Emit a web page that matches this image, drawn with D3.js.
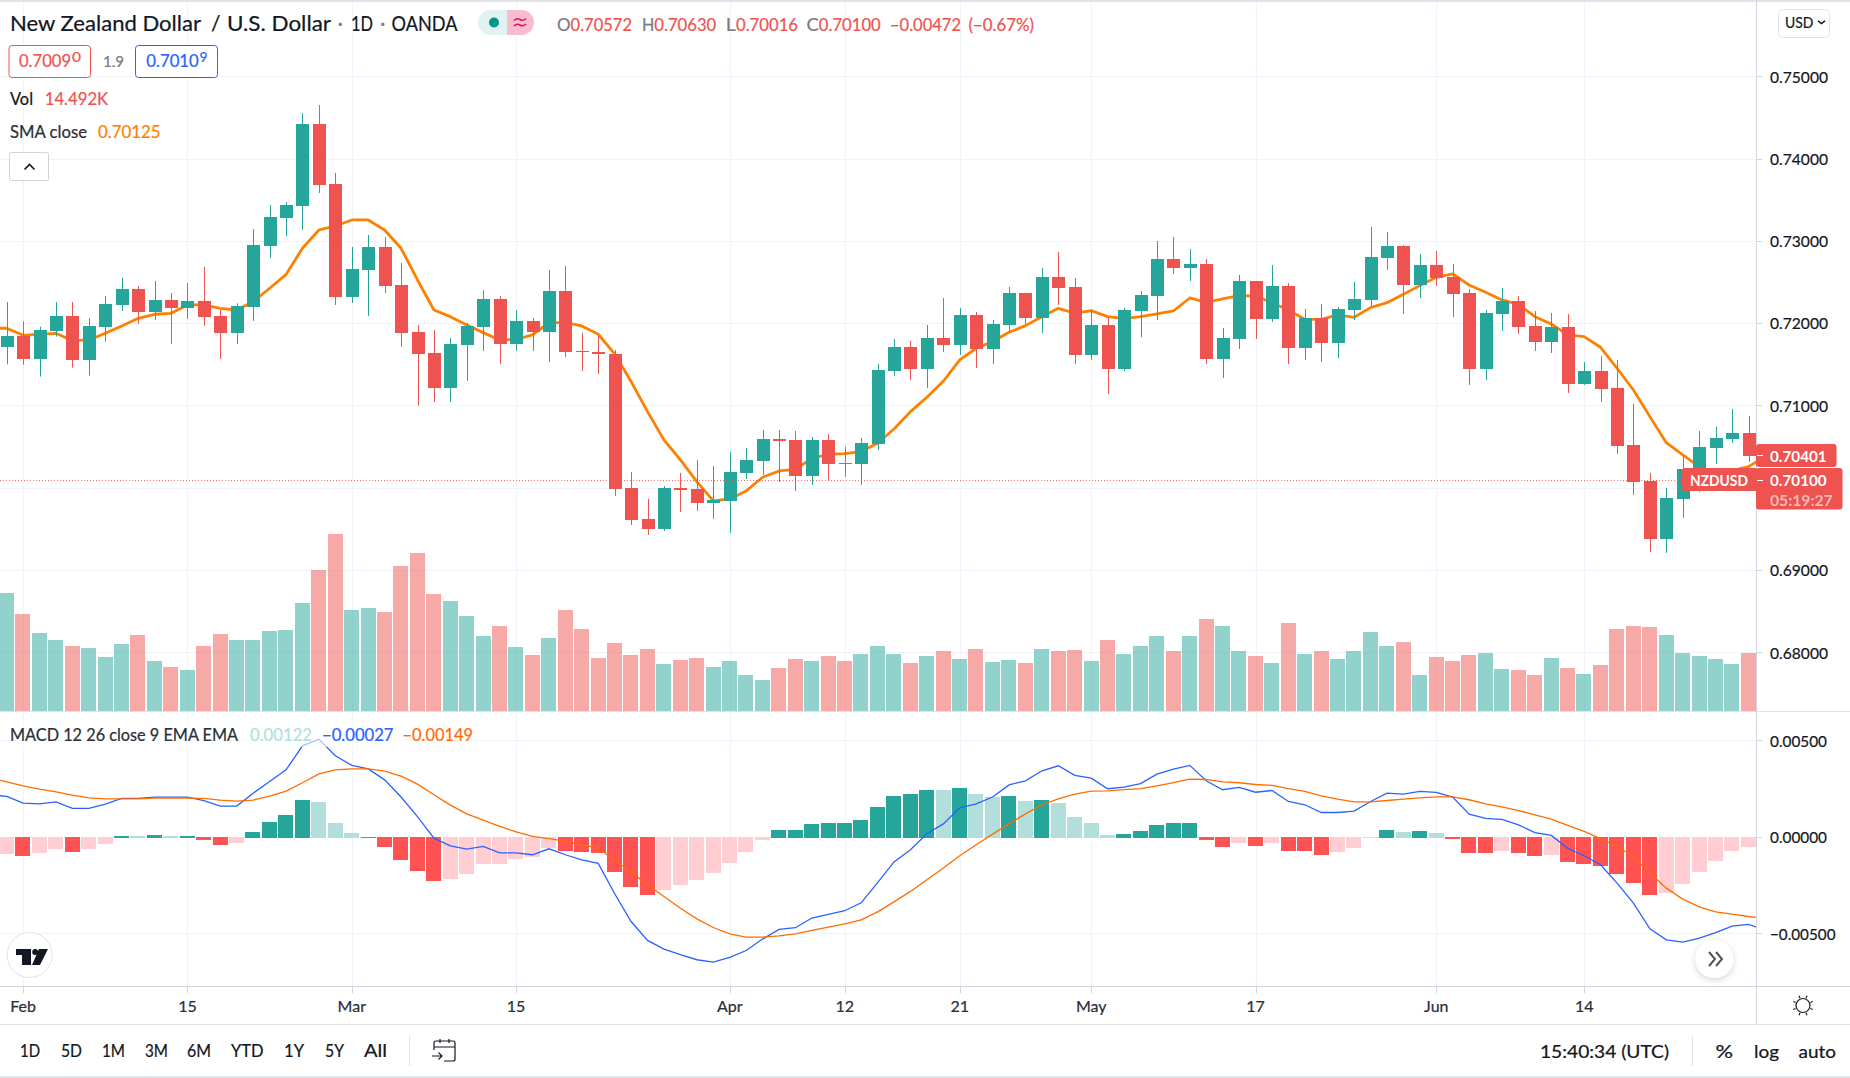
<!DOCTYPE html>
<html><head><meta charset="utf-8">
<script src="https://cdn.jsdelivr.net/npm/d3@7/dist/d3.min.js"></script>
<style>html,body{margin:0;padding:0;background:#fff;overflow:hidden}svg{display:block}text{font-family:Lato,"Noto Sans",sans-serif}</style>
</head><body><svg id="c" width="1850" height="1078"></svg>
<script>
const open=[.71715,.71844,.71565,.71905,.72087,.71553,.71954,.72221,.72415,.72136,.72282,.72185,.72270,.72087,.71881,.72197,.72938,.73278,.73424,.74420,.73691,.72318,.72646,.72926,.72464,.71893,.71638,.71213,.71735,.71954,.72294,.71747,.72027,.71893,.72391,.71662,.71650,.71626,.69998,.69621,.69499,.69998,.69985,.69815,.69840,.70180,.70326,.70593,.70581,.70143,.70581,.70301,.70289,.70532,.71419,.71711,.71443,.71820,.71735,.72100,.71686,.71978,.72367,.72063,.72561,.72440,.71614,.71978,.71443,.72148,.72330,.72780,.72671,.72719,.71565,.71808,.72513,.72051,.72452,.71699,.72063,.71759,.72160,.72282,.72792,.72938,.72464,.72707,.72561,.72367,.71443,.72112,.72270,.71966,.71771,.71954,.71261,.71419,.71213,.70520,.70083,.69378,.69864,.70216,.70484,.70593,.70666];
const close=[.71844,.71565,.71917,.72087,.71553,.71966,.72233,.72415,.72136,.72282,.72185,.72270,.72075,.71881,.72209,.72950,.73290,.73436,.74420,.73679,.72318,.72658,.72926,.72452,.71881,.71626,.71213,.71747,.71966,.72294,.71747,.72027,.71893,.72391,.71650,.71646,.71622,.69985,.69609,.69499,.69998,.69973,.69815,.69852,.70192,.70338,.70593,.70569,.70143,.70581,.70289,.70289,.70544,.71431,.71711,.71443,.71820,.71735,.72100,.71686,.71990,.72367,.72063,.72561,.72428,.71614,.71978,.71443,.72160,.72343,.72780,.72671,.72719,.71565,.71820,.72513,.72051,.72452,.71699,.72063,.71759,.72172,.72294,.72804,.72938,.72464,.72707,.72549,.72355,.71443,.72124,.72270,.71954,.71771,.71954,.71261,.71419,.71200,.70508,.70070,.69378,.69876,.70228,.70496,.70605,.70666,.70386];
const high=[.72257,.72023,.71958,.72257,.72257,.72063,.72330,.72553,.72452,.72513,.72367,.72488,.72683,.72160,.72241,.73144,.73436,.73472,.74554,.74651,.73825,.72926,.73072,.73047,.72731,.71978,.71917,.71820,.72002,.72403,.72330,.72160,.72063,.72646,.72695,.71881,.71844,.71674,.70192,.69864,.70022,.70180,.70338,.70265,.70435,.70484,.70702,.70702,.70690,.70617,.70654,.70496,.70605,.71504,.71808,.71784,.71978,.72306,.72185,.72136,.72039,.72440,.72367,.72671,.72865,.72549,.72160,.72063,.72185,.72391,.72999,.73047,.72901,.72780,.71942,.72586,.72513,.72707,.72488,.72172,.72233,.72197,.72500,.73169,.73108,.72950,.72841,.72877,.72719,.72415,.72160,.72428,.72330,.72148,.72124,.72112,.71528,.71601,.71553,.71018,.70180,.69998,.70374,.70690,.70739,.70957,.70872];
const low=[.71500,.71496,.71350,.71836,.71460,.71362,.71776,.72148,.71990,.72039,.71747,.72051,.71966,.71565,.71747,.72027,.72792,.73059,.73132,.73582,.72221,.72245,.72087,.72367,.71711,.70998,.71042,.71042,.71298,.71662,.71504,.71662,.71662,.71528,.71589,.71419,.71383,.69900,.69548,.69427,.69475,.69706,.69718,.69621,.69451,.70107,.70156,.70070,.69961,.70034,.70083,.70131,.70034,.70459,.71358,.71310,.71213,.71650,.71614,.71456,.71504,.71893,.71990,.71881,.72221,.71504,.71553,.71140,.71419,.71832,.72039,.72598,.72513,.71504,.71334,.71686,.71808,.72014,.71504,.71553,.71528,.71577,.72039,.72209,.72646,.72112,.72306,.72452,.72075,.71249,.71310,.71905,.71869,.71662,.71638,.71152,.71249,.71042,.70411,.69913,.69220,.69208,.69633,.69949,.70289,.70544,.70313];
// SMA: first value belongs to the bar just left of the view, last to the bar just right of it
const sma=[.71938,.71938,.71852,.71865,.71877,.71788,.71796,.71877,.71966,.72059,.72108,.72120,.72221,.72221,.72180,.72160,.72262,.72424,.72590,.72910,.73132,.73181,.73254,.73254,.73132,.72910,.72525,.72160,.72079,.71978,.71885,.71796,.71804,.71857,.72006,.72006,.71966,.71865,.71626,.71290,.70925,.70581,.70338,.70075,.69840,.69864,.69961,.70127,.70204,.70224,.70358,.70407,.70415,.70439,.70540,.70714,.70925,.71099,.71294,.71553,.71695,.71776,.71889,.71970,.72079,.72180,.72120,.72152,.72079,.72055,.72079,.72112,.72148,.72306,.72253,.72294,.72334,.72330,.72249,.72160,.72047,.72047,.72100,.72071,.72189,.72249,.72351,.72456,.72557,.72598,.72464,.72375,.72282,.72229,.72079,.71990,.71857,.71836,.71707,.71452,.71188,.70864,.70548,.70399,.70257,.70168,.70208,.70257,.70377];
// volume in thousands
const volume=[29.5,24.25,19.5,17.75,16.25,15.75,13.5,16.75,19,12.5,11,10.25,16.25,19.25,17.75,17.75,20,20.25,27,35.25,44.25,25.25,25.75,24.75,36.25,39.5,29.25,27.5,23.75,18.75,21.25,16,14,18.25,25.25,20.5,13.25,17,14,15.5,11.75,12.75,13.25,11,12.5,9,7.75,10.75,13,12.5,13.75,12.5,14.25,16.25,14.25,12,13.75,15,13,15.5,12.25,12.75,12,15.5,15,15.25,12.5,17.75,14.25,16.25,18.75,15,18.75,23,21.25,15,13.75,12,22,14.25,15,13,15,19.75,16.25,17.25,9,13.5,12.5,14,14.5,10.5,10.25,9,13.25,10.75,9.25,11.5,20.5,21.25,21,19,14.5,13.75,13,11.75,14.492];
// MACD values in units of 0.00001
const hist=[-83,-93,-78,-57,-73,-57,-31,5,4,10,5,6,-10,-36,-26,26,78,114,192,181,73,21,-3,-47,-114,-171,-223,-212,-187,-135,-134,-109,-98,-52,-67,-73,-78,-176,-254,-295,-269,-244,-218,-181,-130,-73,-10,36,37,67,73,74,88,155,212,223,244,243,254,223,207,212,187,192,176,104,73,10,16,31,62,73,74,-10,-47,-26,-41,-26,-67,-68,-88,-73,-52,-2,36,26,31,21,-5,-78,-79,-67,-78,-93,-88,-124,-135,-145,-187,-233,-295,-285,-238,-176,-119,-67,-47];
const macd=[218,209,174,171,181,147,147,169,199,199,206,206,206,188,159,159,226,287,347,471,506,420,370,352,295,206,105,-7,-47,-64,-50,-83,-83,-93,-62,-93,-119,-138,-295,-439,-537,-582,-611,-637,-649,-625,-589,-530,-480,-471,-421,-402,-383,-342,-237,-130,-67,16,67,150,171,206,269,290,342,368,318,304,249,257,276,325,351,370,290,244,256,231,240,183,166,126,126,133,183,226,221,235,230,206,117,95,90,62,22,7,-60,-98,-145,-240,-344,-477,-534,-546,-525,-497,-463,-454,-482];
const signal=[306,285,264,247,233,216,202,197,197,197,200,200,200,199,190,185,190,211,237,280,326,347,352,352,340,314,273,218,164,119,86,54,26,2,-10,-22,-40,-59,-122,-183,-249,-309,-370,-425,-470,-503,-520,-520,-513,-503,-485,-468,-451,-430,-389,-337,-283,-223,-162,-98,-41,14,67,119,166,197,221,237,238,244,250,264,281,299,297,285,280,271,266,250,235,212,195,181,181,188,195,202,207,207,192,171,155,136,114,92,59,28,-9,-50,-102,-188,-266,-323,-363,-389,-401,-413,-423];
const priceTicks=[.75,.74,.73,.72,.71,.70,.69,.68];
const hiddenPriceLabels=[.70]; // covered by the last-price tag in the reference
const macdTicks=[.005,0,-.005];
const timeTickBars=[1,11,21,31,44,51,58,66,76,87,96];
const timeTickLabels=["Feb","15","Mar","15","Apr","12","21","May","17","Jun","14"];
const rangeButtons=["1D","5D","1M","3M","6M","YTD","1Y","5Y","All"];
const lastClose=.70100, lastSma=.70401;

const UP="#26a69a",DOWN="#ef5350",GRID="#f0f3fa",RULE="#e0e3eb",INK="#131722",GRAY="#787b86";
const plotRight=1756;
const svg=d3.select("#c");
const x=d3.scaleLinear().domain([0,106]).range([6.7,1748.5]);
const y=d3.scaleLinear().domain([.68,.75]).range([652.3,76.3]);
const yVol=d3.scaleLinear().domain([0,44.25]).range([711,534]);
const yM=d3.scaleLinear().domain([-.005,.005]).range([933.3,740.3]);
const barW=13, volW=15.4;

function text(g,px,py,s,o={}){
  const t=g.append("text").attr("x",px).attr("y",py).attr("dy",".36em")
  .attr("text-anchor",o.a||"start").attr("font-size",o.s||16).attr("fill",o.f||INK).attr("font-weight",o.w||400)
  .attr("stroke",o.f||INK).attr("stroke-width",o.w?0:.22).attr("opacity",o.o==null?null:o.o).text(s);
  if(o.l)t.attr("textLength",o.l).attr("lengthAdjust","spacingAndGlyphs");
  return t;}
function line(g,x1,y1,x2,y2,c,w=1){g.append("line").attr("x1",x1).attr("y1",y1).attr("x2",x2).attr("y2",y2).attr("stroke",c).attr("stroke-width",w);}

svg.append("defs").append("clipPath").attr("id","plot").append("rect").attr("x",0).attr("y",0).attr("width",plotRight).attr("height",1078);
svg.append("defs").append("filter").attr("id","sh").attr("x","-40%").attr("y","-40%").attr("width","180%").attr("height","180%")
  .append("feDropShadow").attr("dx",0).attr("dy",2).attr("stdDeviation",3).attr("flood-color","#000").attr("flood-opacity",.18);

// grid
const grid=svg.append("g").attr("shape-rendering","crispEdges");
priceTicks.forEach(p=>line(grid,0,Math.round(y(p))+.5,plotRight,Math.round(y(p))+.5,GRID));
macdTicks.forEach(p=>line(grid,0,Math.round(yM(p))+.5,plotRight,Math.round(yM(p))+.5,GRID));
timeTickBars.forEach(i=>line(grid,Math.round(x(i))+.5,2,Math.round(x(i))+.5,986,GRID));

// volume
svg.append("g").attr("shape-rendering","crispEdges").selectAll("rect").data(volume).join("rect")
  .attr("x",(d,i)=>Math.round(x(i)-volW/2)).attr("width",volW).attr("y",d=>yVol(d)).attr("height",d=>yVol(0)-yVol(d))
  .attr("fill",(d,i)=>close[i]<open[i]?DOWN:UP).attr("fill-opacity",.5);

// SMA, candles on top
const plot=svg.append("g").attr("clip-path","url(#plot)");
plot.append("path").datum(sma).attr("fill","none").attr("stroke","#ff8000").attr("stroke-width",2.8).attr("stroke-linejoin","round")
  .attr("d",d3.line().x((d,i)=>x(i-1)).y(d=>y(d)));
const candles=plot.selectAll("g.c").data(open).join("g").attr("class","c").attr("fill",(d,i)=>close[i]<d?DOWN:UP).attr("stroke",(d,i)=>close[i]<d?DOWN:UP);
candles.append("line").attr("x1",(d,i)=>Math.round(x(i))+.5).attr("x2",(d,i)=>Math.round(x(i))+.5).attr("y1",(d,i)=>y(high[i])).attr("y2",(d,i)=>y(low[i])).attr("stroke-width",1);
candles.append("rect").attr("stroke","none").attr("shape-rendering","crispEdges")
  .attr("x",(d,i)=>Math.round(x(i))+.5-barW/2).attr("width",barW)
  .attr("y",(d,i)=>y(Math.max(d,close[i]))).attr("height",(d,i)=>Math.max(1.5,Math.abs(y(d)-y(close[i]))));

// last price line
plot.append("line").attr("x1",0).attr("x2",plotRight).attr("y1",Math.round(y(lastClose))+.5).attr("y2",Math.round(y(lastClose))+.5)
  .attr("stroke",DOWN).attr("stroke-width",1).attr("stroke-dasharray","1 2").attr("opacity",.85);

// MACD histogram
const histColor=(d,i)=>{const p=i?hist[i-1]:d;return d>=0?(d>=p?"#26a69a":"#b2dfdb"):(d<p?"#ff5252":"#ffcdd2");};
svg.append("g").attr("shape-rendering","crispEdges").selectAll("rect").data(hist).join("rect")
  .attr("x",(d,i)=>Math.round(x(i)-volW/2)).attr("width",volW)
  .attr("y",d=>yM(Math.max(d,0)/1e5)).attr("height",d=>Math.abs(yM(d/1e5)-yM(0))+1).attr("fill",histColor);
const mLine=d3.line().x((d,i)=>x(i-1)).y(d=>yM(d/1e5));
const mg=svg.append("g").attr("clip-path","url(#plot)");
mg.append("path").datum(macd).attr("fill","none").attr("stroke","#2962ff").attr("stroke-width",1.3).attr("d",mLine);
mg.append("path").datum(signal).attr("fill","none").attr("stroke","#ff6d00").attr("stroke-width",1.3).attr("d",mLine);

// pane rules
const rules=svg.append("g").attr("shape-rendering","crispEdges");
line(rules,0,1,1850,1,RULE,2);
line(rules,0,711.5,1850,711.5,RULE);
line(rules,0,986.5,1850,986.5,"#d1d4dc");
line(rules,0,1024.5,1850,1024.5,RULE);
line(rules,0,1077,1850,1077,RULE,2);
line(rules,plotRight+.5,0,plotRight+.5,1024,"#d1d4dc");

// axes
const ax=svg.append("g");
const tickColor="#d1d4dc";
priceTicks.filter(p=>!hiddenPriceLabels.includes(p)).forEach(p=>{line(ax,plotRight,Math.round(y(p))+.5,plotRight+6,Math.round(y(p))+.5,tickColor);text(ax,1770,y(p)+.5,d3.format(".5f")(p),{l:58});});
macdTicks.forEach(p=>{line(ax,plotRight,Math.round(yM(p))+.5,plotRight+6,Math.round(yM(p))+.5,tickColor);text(ax,1770,yM(p)+.5,d3.format(".5f")(p).replace("-","−"),{l:p<0?65.5:57});});
timeTickBars.forEach((b,k)=>{line(ax,Math.round(x(b))+.5,987,Math.round(x(b))+.5,993,tickColor);
  text(ax,x(b),1006.5,timeTickLabels[k],{a:"middle",s:16,f:"#2a2e39"});});

// header
const hd=svg.append("g");
text(hd,10,23.5,"New Zealand Dollar",{s:21,l:191});
text(hd,211,23.5,"/",{s:21});
text(hd,227,23.5,"U.S. Dollar",{s:21,l:104});
text(hd,337.5,23.5,"·",{s:21,f:GRAY});
text(hd,351,23.5,"1D",{s:21,l:22});
text(hd,380,23.5,"·",{s:21,f:GRAY});
text(hd,391.5,23.5,"OANDA",{s:21,l:66});
hd.append("path").attr("d","M507 10H490.5a12.5 12.5 0 0 0 0 25H507Z").attr("fill","#e0f2f1");
hd.append("path").attr("d","M507 10H521.5a12.5 12.5 0 0 1 0 25H507Z").attr("fill","#f8bbd0");
hd.append("circle").attr("cx",494).attr("cy",22.5).attr("r",5).attr("fill","#009688");
hd.append("path").attr("d","M514 20.5q3-3 6-1t6-1M514 26q3-3 6-1t6-1").attr("fill","none").attr("stroke","#d81b60").attr("stroke-width",1.6);
[[557,"O",GRAY,13.5],[570.6,"0.70572",DOWN,61.4],[642,"H",GRAY,12.3],[654.3,"0.70630",DOWN,62],[725.7,"L",GRAY,10],[736,"0.70016",DOWN,62],[806.5,"C",GRAY,12.3],[818.8,"0.70100",DOWN,62],[890,"−0.00472",DOWN,71],[968.5,"(−0.67%)",DOWN,65.5]]
  .forEach(d=>text(hd,d[0],25,d[1],{s:16.5,f:d[2],l:d[3]}));
hd.append("rect").attr("x",9).attr("y",45.5).attr("width",81.5).attr("height",32).attr("rx",3).attr("fill","#fff").attr("stroke",DOWN);
text(hd,19,61.5,"0.7009",{s:16.5,f:DOWN,l:52});text(hd,72,57,"0",{s:14,f:DOWN,l:9});
text(hd,103,62,"1.9",{s:15,f:GRAY,l:21});
hd.append("rect").attr("x",135.5).attr("y",45.5).attr("width",82).attr("height",32).attr("rx",3).attr("fill","#fff").attr("stroke","#2962ff");
text(hd,146.3,61.5,"0.7010",{s:16.5,f:"#2962ff",l:52.5});text(hd,199.5,57,"9",{s:14,f:"#2962ff",l:8});
text(hd,10,99.5,"Vol",{s:16.5,l:23});text(hd,44.7,99.5,"14.492K",{s:16.5,f:DOWN,l:63.5});
text(hd,10,132.5,"SMA close",{s:16.5,f:"#2a2e39",l:77});text(hd,98,132.5,"0.70125",{s:16.5,f:"#ff8000",l:62.5});
hd.append("rect").attr("x",9.5).attr("y",152.5).attr("width",39).attr("height",28).attr("rx",2).attr("fill","#fff").attr("stroke","#d1d4dc");
hd.append("path").attr("d","M24.5 169.5l5-5 5 5").attr("fill","none").attr("stroke",INK).attr("stroke-width",1.6);
// currency selector
hd.append("rect").attr("x",1778.5).attr("y",9.5).attr("width",51).attr("height",28).attr("rx",5).attr("fill","#fff").attr("stroke",RULE);
text(hd,1785,22.5,"USD",{s:15,l:28.5});
hd.append("path").attr("d","M1818 20.800l3.500 2.700 3.500-2.700").attr("fill","none").attr("stroke",INK).attr("stroke-width",1.5);

// MACD legend
const ml=svg.append("g");
ml.append("rect").attr("x",6).attr("y",723).attr("width",470).attr("height",24).attr("fill","#fff").attr("fill-opacity",.6);
text(ml,10,735,"MACD 12 26 close 9 EMA EMA",{s:16.5,f:"#2a2e39",l:228});
text(ml,250,735,"0.00122",{s:16.5,f:"#b2dfdb",l:62});
text(ml,322,735,"−0.00027",{s:16.5,f:"#2962ff",l:71.5});
text(ml,402.5,735,"−0.00149",{s:16.5,f:"#ff6d00",l:70.5});

// price tags
const tags=svg.append("g");
tags.append("rect").attr("x",1756).attr("y",444).attr("width",80.5).attr("height",23).attr("rx",3).attr("fill",DOWN);
tags.append("rect").attr("x",1682).attr("y",468).attr("width",76).attr("height",23).attr("rx",3).attr("fill",DOWN);
tags.append("rect").attr("x",1756).attr("y",468).attr("width",86.5).attr("height",41.5).attr("rx",3).attr("fill",DOWN);
line(tags,1757,455.5,1763,455.5,"#fff");line(tags,1757,480.5,1763,480.5,"#fff");
text(tags,1770,456,d3.format(".5f")(lastSma),{s:15.5,f:"#fff",w:700,l:56.7});
text(tags,1770,480,d3.format(".5f")(lastClose),{s:15.5,f:"#fff",w:700,l:56.7});
text(tags,1770,500,"05:19:27",{s:15.5,f:"#fff",o:.6,w:700,l:62.7});
text(tags,1690,480,"NZDUSD",{s:15.5,f:"#fff",w:700,l:58});

// logo + scroll button
const lg=svg.append("g");
lg.append("circle").attr("cx",29.7).attr("cy",955).attr("r",22.5).attr("fill","#fff").attr("stroke",RULE);
lg.append("path").attr("d","M16 949H31V965H22V955H16ZM40 965H32L39 949H48Z").attr("fill",INK);
lg.append("circle").attr("cx",35.2).attr("cy",952).attr("r",3).attr("fill",INK);
lg.append("circle").attr("cx",1714.5).attr("cy",959).attr("r",19).attr("fill","#fff").attr("filter","url(#sh)");
lg.append("path").attr("d","M1709 952l6 7-6 7M1716 952l6 7-6 7").attr("fill","none").attr("stroke","#50535e").attr("stroke-width",2);
// sun icon
const sun=svg.append("g").attr("transform","translate(1803,1005.5)").attr("fill","none").attr("stroke",INK).attr("stroke-width",1.2);
sun.append("circle").attr("r",7);
d3.range(8).forEach(k=>{const a=k*Math.PI/4+Math.PI/8;line(sun,8*Math.cos(a),8*Math.sin(a),10.5*Math.cos(a),10.5*Math.sin(a),INK,1.2);});

// bottom bar
const bb=svg.append("g");
[[20,20],[61,21],[102,23],[145,23],[187,24],[231,32.500],[284,20],[325,19],[364,23]].forEach((p,k)=>text(bb,p[0],1051.5,rangeButtons[k],{s:16.5,l:p[1]}));
line(bb,409.5,1036,409.5,1066,RULE);
bb.append("path").attr("d","M434 1050V1042.5Q434 1041 436 1041H453Q455 1041 455 1043V1059Q455 1061 453 1061H444M434 1047H455M440 1039V1043M449 1039V1043M432 1056H442M438.500 1052.500L442 1056L438.500 1059.500").attr("fill","none").attr("stroke",INK).attr("stroke-width",1.2);
text(bb,1540,1052,"15:40:34 (UTC)",{s:16.5,l:129});
line(bb,1692.5,1036,1692.5,1066,RULE);
text(bb,1715.5,1052,"%",{s:16.5,l:17.5});text(bb,1754,1052,"log",{s:16.5,l:25});text(bb,1798.5,1052,"auto",{s:16.5,l:37.5});
</script></body></html>
